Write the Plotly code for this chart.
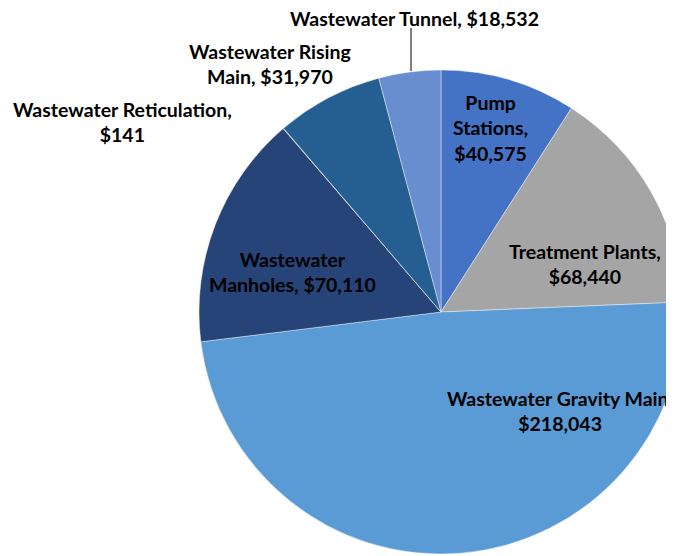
import plotly.graph_objects as go

# slices, clockwise from 12 o'clock
categories = [
    'Pump Stations',
    'Treatment Plants',
    'Wastewater Gravity Main',
    'Wastewater Manholes',
    'Wastewater Reticulation',
    'Wastewater Rising Main',
    'Wastewater Tunnel',
]
values = [40575, 68440, 218043, 70110, 141, 31970, 18532]
colors = ['#4472C4', '#A5A5A5', '#5B9BD5', '#264478', '#7F7F7F', '#255E91', '#698ED0']

# how each label is broken over lines in the original
label_lines = {
    'Pump Stations': ['Pump', 'Stations,', '{v}'],
    'Treatment Plants': ['Treatment Plants,', '{v}'],
    'Wastewater Gravity Main': ['Wastewater Gravity Main,', '{v}'],
    'Wastewater Manholes': ['Wastewater', 'Manholes, {v}'],
    'Wastewater Reticulation': ['Wastewater Reticulation,', '{v}'],
    'Wastewater Rising Main': ['Wastewater Rising', 'Main, {v}'],
    'Wastewater Tunnel': ['Wastewater Tunnel, {v}'],
}
# label centres on the page in pixels (x, y from top)
label_pos = {
    'Pump Stations': (490, 128),
    'Treatment Plants': (585, 264),
    'Wastewater Gravity Main': (560, 411),
    'Wastewater Manholes': (292, 272),
    'Wastewater Reticulation': (122, 122),
    'Wastewater Rising Main': (270, 64),
    'Wastewater Tunnel': (414, 18),
}

# the figure is drawn a bit larger than the window; the right part of the pie is cut off
W, H = 700, 560
OFF = 8  # page body margin
FONT = 'Lato, "Open Sans", sans-serif'


def px_to_paper(x, y):
    return (x - OFF) / W, 1 - (y - OFF) / H


# pie centre (441, 312) on the page, radius 242
cx, cy, r = 441, 312, 242
x0, y1 = px_to_paper(cx - r, cy - r)
x1, y0 = px_to_paper(cx + r, cy + r)

fig = go.Figure(go.Pie(
    labels=categories,
    values=values,
    sort=False,
    direction='clockwise',
    rotation=0,
    marker=dict(colors=colors, line=dict(color='rgba(255,255,255,0.5)', width=0.8)),
    textinfo='none',
    hoverinfo='label+value+percent',
    domain=dict(x=[x0, x1], y=[y0, y1]),
    showlegend=False,
))

annotations = []
for cat, val in zip(categories, values):
    text = '<br>'.join(f'<b>{line.format(v=f"${val:,}")}</b>' for line in label_lines[cat])
    ax_, ay_ = px_to_paper(*label_pos[cat])
    annotations.append(dict(
        text=text, x=ax_, y=ay_, xref='paper', yref='paper',
        xanchor='center', yanchor='middle', showarrow=False, borderpad=0,
        font=dict(family=FONT, size=19.5, color='#000000'),
    ))

fig.update_layout(
    width=W, height=H,
    margin=dict(l=0, r=0, t=0, b=0),
    paper_bgcolor='#ffffff',
    font=dict(family=FONT, color='#000000'),
    annotations=annotations,
)

# leader line for the tunnel label
lx, ly0 = px_to_paper(411, 28)
_, ly1 = px_to_paper(411, 71)
fig.add_shape(type='line', xref='paper', yref='paper',
              x0=lx, x1=lx, y0=ly0, y1=ly1,
              line=dict(color='#000000', width=1))

fig.write_html('out.html')
